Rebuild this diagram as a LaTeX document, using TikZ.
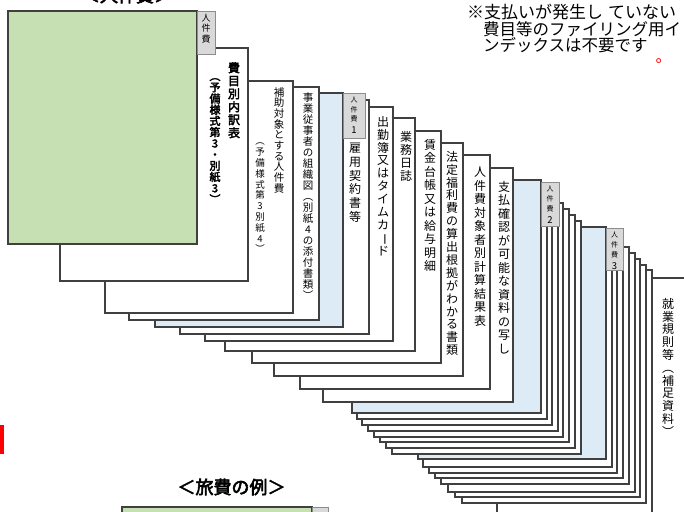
\documentclass[tikz,border=0pt]{standalone}
\usepackage{fontspec}
\usepackage{graphicx}
\newfontfamily\jp{Noto Sans CJK JP}
\newfontfamily\jpb[FakeBold=3]{Noto Sans CJK JP}
\definecolor{sgreen}{HTML}{C6E0B4}
\definecolor{sblue}{HTML}{DDEBF7}
\definecolor{stab}{HTML}{D9D9D9}
\definecolor{sline}{HTML}{404040}
\definecolor{tabline}{HTML}{8C8C8C}
\makeatletter
\def\vt@aux#1{\ifx\relax#1\else\hbox to 1em{\hss#1\hss}\expandafter\vt@aux\fi}
\newcommand\vt[2]{\vbox{\baselineskip=#1\relax\lineskiplimit=-\maxdimen\lineskip=0pt\vt@aux#2\relax}}
\makeatother
\newcommand\vbar{{\rotatebox[origin=c]{-90}{ー}}}
\begin{document}
\begin{tikzpicture}[x=1pt,y=-1pt,
  sheetline/.style={draw=sline, line width=1.4pt},
  tabbox/.style={draw=tabline, line width=0.8pt, fill=stab},
  vtxt/.style={inner sep=0pt, anchor=north, text=black}]
\useasboundingbox (0,0) rectangle (684,511);
\clip (0,0) rectangle (684,511);
% ---- sheets, back to front ----
\draw[sheetline, fill=white] (520,278) rectangle (700,540);
\foreach \l/\t/\r/\b in {497/270/652/530, 462/265/646/503, 455/259/640/497, 448/253/635/492, 441/247/629/484, 435/241/623/478, 429/235/617/473, 423/229/612/467}
  \draw[sheetline, fill=white] (\l,\t) rectangle (\r,\b);
\draw[sheetline, fill=sblue] (418,227) rectangle (606,459);
\draw[tabbox] (606,228) rectangle (623,270);
\foreach \l/\t/\r/\b in {392/221/581/454, 386/215/575/448, 380/209/569/442, 374/203/563/437, 368/197/558/431, 362/191/552/425, 357/185/547/419}
  \draw[sheetline, fill=white] (\l,\t) rectangle (\r,\b);
\draw[sheetline, fill=sblue] (352,180) rectangle (541,413);
\draw[tabbox] (541,182) rectangle (559,226);
\foreach \l/\t/\r/\b in {323/168/513/402, 300/155/490/389, 274/143/463/376, 252/131/441/363, 225/118/415/351, 205/107/393/341, 180/100/369/334}
  \draw[sheetline, fill=white] (\l,\t) rectangle (\r,\b);
\draw[sheetline, fill=sblue] (155,93) rectangle (343,327);
\draw[tabbox] (343,93) rectangle (365,138);
\foreach \l/\t/\r/\b in {129/87/319/320, 105/81/293/313, 60/48/248/281}
  \draw[sheetline, fill=white] (\l,\t) rectangle (\r,\b);
\draw[sheetline, fill=sgreen] (8,11) rectangle (197,244);
\draw[tabbox] (197,11) rectangle (215,54);
% ---- tab labels ----
\node[vtxt, font=\jp\fontsize{9}{9}\selectfont] (k0) at (206,14) {\vt{10.5pt}{人件費}};
\node[vtxt, font=\jp\fontsize{7}{7}\selectfont] (k1) at (354,97) {\vt{9.5pt}{人件費}};
\node[vtxt, font=\jp\fontsize{9.5}{9.5}\selectfont] (k1n) at (354,127) {1};
\node[vtxt, font=\jp\fontsize{7}{7}\selectfont] (k2) at (550,186) {\vt{10pt}{人件費}};
\node[vtxt, font=\jp\fontsize{9.5}{9.5}\selectfont] (k2n) at (550,216) {2};
\node[vtxt, font=\jp\fontsize{7}{7}\selectfont] (k3) at (614.5,232) {\vt{10pt}{人件費}};
\node[vtxt, font=\jp\fontsize{9.5}{9.5}\selectfont] (k3n) at (614.5,262) {3};
% ---- sheet labels ----
\node[vtxt, font=\jpb\fontsize{12}{12}\selectfont] (t1) at (234,62) {\vt{13pt}{費目別内訳表}};
\node[vtxt, font=\jpb\fontsize{11}{11}\selectfont] (t1b) at (215,78) {\vt{11.2pt}{︵予備様式第3・別紙3︶}};
\node[vtxt, font=\jp\fontsize{10.5}{10.5}\selectfont] (t2) at (279,87) {\vt{10.7pt}{補助対象とする人件費}};
\node[vtxt, font=\jp\fontsize{9.5}{9.5}\selectfont] (t2b) at (260,143) {\vt{10.8pt}{︵予備様式第3別紙4︶}};
\node[vtxt, font=\jp\fontsize{10.5}{10.5}\selectfont] (t3) at (308,92) {\vt{11pt}{事業従事者の組織図︵別紙4の添付書類︶}};
\node[vtxt, font=\jp\fontsize{12}{12}\selectfont] (t5) at (355,143) {\vt{13.7pt}{雇用契約書等}};
\node[vtxt, font=\jp\fontsize{12}{12}\selectfont] (t6) at (383,116) {\vt{12.9pt}{出勤簿又はタイムカ\vbar ド}};
\node[vtxt, font=\jp\fontsize{12}{12}\selectfont] (t7) at (406,131) {\vt{13pt}{業務日誌}};
\node[vtxt, font=\jp\fontsize{12}{12}\selectfont] (t8) at (430,139) {\vt{13.5pt}{賃金台帳又は給与明細}};
\node[vtxt, font=\jp\fontsize{12}{12}\selectfont] (t9) at (452,151) {\vt{12.9pt}{法定福利費の算出根拠がわかる書類}};
\node[vtxt, font=\jp\fontsize{12}{12}\selectfont] (t10) at (480,167) {\vt{13.5pt}{人件費対象者別計算結果表}};
\node[vtxt, font=\jp\fontsize{12}{12}\selectfont] (t11) at (504,181) {\vt{13.5pt}{支払確認が可能な資料の写し}};
\node[vtxt, font=\jp\fontsize{12}{12}\selectfont] (t12) at (668,298) {\vt{12.8pt}{就業規則等︵補足資料︶}};
% ---- headings and note ----
\node[font=\jpb\fontsize{18}{18}\selectfont, anchor=base, inner sep=0pt] (h1) at (127,2) {＜人件費＞};
\node[font=\jpb\fontsize{18}{18}\selectfont, inner sep=0pt] (h2) at (231.5,487) {＜旅費の例＞};
\draw[sheetline, fill=sgreen] (122,507) rectangle (312,530);
\draw[tabbox] (312,507) rectangle (328,530);
\fill[red] (0,425) rectangle (4,454);
\node[font=\jp\fontsize{17}{17}\selectfont, anchor=base west, inner sep=0pt] (n1) at (467,19) {※支払いが発生し\hspace{5pt}ていない};
\node[font=\jp\fontsize{16.5}{16.5}\selectfont, anchor=base west, inner sep=0pt] (n2) at (483,35.5) {費目等のファイリング用イ};
\node[font=\jp\fontsize{16.5}{16.5}\selectfont, anchor=base west, inner sep=0pt] (n3) at (483,52) {ンデックスは不要です};
\node[font=\jp\fontsize{16}{16}\selectfont, anchor=base west, inner sep=0pt, text=red] (n4) at (655.5,63) {。};
\end{tikzpicture}
\end{document}
